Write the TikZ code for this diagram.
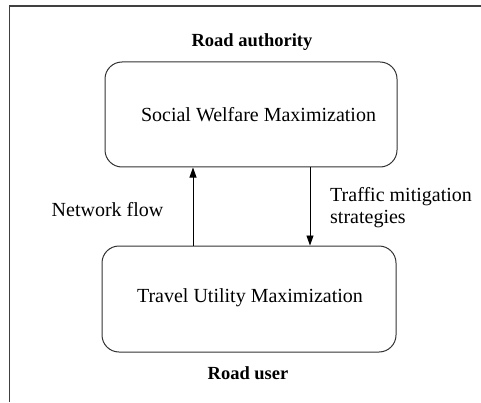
\documentclass[tikz,border=0pt]{standalone}
\usepackage{fontspec}
\setmainfont{Liberation Serif}
\usetikzlibrary{arrows.meta}
\begin{document}
\begin{tikzpicture}[x=1pt,y=1pt,
  box/.style={draw=black!80, line width=1pt, rounded corners=17pt, inner sep=0pt},
  lbl/.style={font=\fontsize{20}{22}\selectfont, inner sep=0pt},
  role/.style={font=\fontsize{18.5}{20}\selectfont\bfseries, inner sep=0pt},
  arr/.style={line width=0.9pt, -{Triangle[length=10pt,width=7pt]}}]
\useasboundingbox (0,0) rectangle (481,402);
% frame
\coordinate (ftl) at (9.5,396);
\coordinate (ftr) at (481,396);
\coordinate (fbl) at (9.5,0);
\draw[line width=1.3pt, black!75] (ftr) -- (ftl) -- (fbl);
% boxes
\node[box, minimum width=292, minimum height=105] (sw) at (251,287.5) {};
\node[lbl] (swt) at (258.5,287) {Social Welfare Maximization};
\node[box, minimum width=294, minimum height=106] (tu) at (249,103) {};
\node[lbl] (tut) at (250,104) {Travel Utility Maximization};
% roles
\node[role] (ra) at (252,360) {Road authority};
\node[role] (ru) at (248,29) {Road user};
% arrows
\coordinate (upx) at (193,200);
\coordinate (dnx) at (310,200);
\draw[arr] (tu.north -| upx) -- (sw.south -| upx);
\draw[arr] (sw.south -| dnx) -- (tu.north -| dnx);
% labels
\node[lbl] (nf) at (107.5,192) {Network flow};
\node[lbl, align=left, anchor=west] (tm) at (330,194) {Traffic mitigation\\strategies};
\end{tikzpicture}
\end{document}
